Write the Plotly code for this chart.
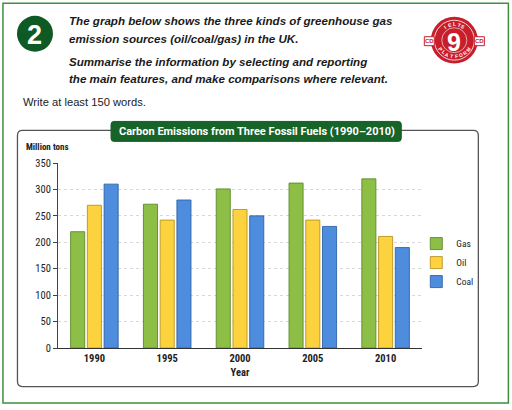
import plotly.graph_objects as go
import math

years = ["1990", "1995", "2000", "2005", "2010"]
gas = [220, 272, 301, 312, 320]
oil = [270, 242, 262, 242, 211]
coal = [310, 280, 250, 230, 190]
series_names = ["Gas", "Oil", "Coal"]
y_ticks = [0, 50, 100, 150, 200, 250, 300, 350]

fills = ["#8DBF47", "#FCD23F", "#4E8DDE"]
edges = ["#5E8A2A", "#B8961E", "#2F62A8"]

W, H = 512, 410
L, R, T, B = 58, 421.7, 162.7, 348.3


def px(x):
    return (x - L) / (R - L)


def py(y):
    return (B - y) / (B - T)


NARROW = "Liberation Sans Narrow, Roboto Condensed, Roboto, sans-serif"
SANS = "Liberation Sans, Arial, sans-serif"

fig = go.Figure()
for name, vals, fc, ec in zip(series_names, [gas, oil, coal], fills, edges):
    fig.add_trace(go.Bar(
        x=years, y=vals, name=name,
        marker=dict(color=fc, line=dict(color=ec, width=0.9)),
    ))

shapes = []
annotations = []

# outer green frame
shapes.append(dict(type="rect", xref="paper", yref="paper",
                   x0=px(3), x1=px(508), y0=py(2.5), y1=py(403.5),
                   line=dict(color="#3F8F3F", width=1.5), fillcolor="rgba(0,0,0,0)", layer="below"))


def rounded(x0, y0, x1, y1, r):
    rx = r / (R - L)
    ry = r / (B - T)
    X0, X1 = px(x0), px(x1)
    Y0, Y1 = py(y0), py(y1)
    return (f"M{X0+rx},{Y0} L{X1-rx},{Y0} Q{X1},{Y0} {X1},{Y0-ry} "
            f"L{X1},{Y1+ry} Q{X1},{Y1} {X1-rx},{Y1} L{X0+rx},{Y1} "
            f"Q{X0},{Y1} {X0},{Y1+ry} L{X0},{Y0-ry} Q{X0},{Y0} {X0+rx},{Y0} Z")


# inner chart box
shapes.append(dict(type="path", xref="paper", yref="paper",
                   path=rounded(17.5, 130, 478, 387, 5),
                   line=dict(color="#555555", width=1.3), fillcolor="rgba(0,0,0,0)", layer="below"))
# title box
shapes.append(dict(type="path", xref="paper", yref="paper",
                   path=rounded(111, 121, 401, 141, 3),
                   line=dict(color="#145E24", width=1), fillcolor="#176328", layer="above"))
annotations.append(dict(xref="paper", yref="paper", x=px(257), y=py(131),
                        text="<b>Carbon Emissions from Three Fossil Fuels (1990–2010)</b>",
                        showarrow=False, font=dict(family="Roboto, sans-serif", size=11, color="white"),
                        xanchor="center", yanchor="middle"))

# number badge
shapes.append(dict(type="circle", xref="paper", yref="paper",
                   x0=px(17), x1=px(53), y0=py(15), y1=py(51),
                   line=dict(color="#0F5A24", width=0), fillcolor="#0F5A24"))
annotations.append(dict(xref="paper", yref="paper", x=px(35), y=py(34), text="<b>2</b>",
                        showarrow=False, font=dict(family=SANS, size=27, color="white"),
                        xanchor="center", yanchor="middle"))

# prompt text
prompt = [
    ("The graph below shows the three kinds of greenhouse gas", 20),
    ("emission sources (oil/coal/gas) in the UK.", 38),
    ("Summarise the information by selecting and reporting", 61),
    ("the main features, and make comparisons where relevant.", 78),
]
for txt, yy in prompt:
    annotations.append(dict(xref="paper", yref="paper", x=px(67), y=py(yy),
                            text=f"<b><i>{txt}</i></b>", showarrow=False,
                            font=dict(family=SANS, size=11.6, color="#1a1a1a"),
                            xanchor="left", yanchor="middle"))
annotations.append(dict(xref="paper", yref="paper", x=px(21), y=py(102),
                        text="Write at least 150 words.", showarrow=False,
                        font=dict(family=SANS, size=11.2, color="#1a1a1a"),
                        xanchor="left", yanchor="middle"))

# logo
cx, cy, rr = 454, 39.5, 23.5
red = "#C81E2B"
shapes.append(dict(type="circle", xref="paper", yref="paper",
                   x0=px(cx - rr), x1=px(cx + rr), y0=py(cy + rr), y1=py(cy - rr),
                   line=dict(width=0), fillcolor=red))
ri = 20
shapes.append(dict(type="circle", xref="paper", yref="paper",
                   x0=px(cx - ri), x1=px(cx + ri), y0=py(cy + ri), y1=py(cy - ri),
                   line=dict(color="white", width=0.8), fillcolor="rgba(0,0,0,0)"))
ri2 = 12.5
shapes.append(dict(type="circle", xref="paper", yref="paper",
                   x0=px(cx - ri2), x1=px(cx + ri2), y0=py(cy + ri2), y1=py(cy - ri2),
                   line=dict(color="white", width=0.6), fillcolor="rgba(0,0,0,0)"))
annotations.append(dict(xref="paper", yref="paper", x=px(cx), y=py(cy + 1.5), text="<b>9</b>",
                        showarrow=False, font=dict(family=SANS, size=25, color="white"),
                        xanchor="center", yanchor="middle"))
for dx in (-25, 25):
    bx = cx + dx
    shapes.append(dict(type="rect", xref="paper", yref="paper",
                       x0=px(bx - 5), x1=px(bx + 5), y0=py(cy + 5.5), y1=py(cy - 3.5),
                       line=dict(color=red, width=1), fillcolor="white"))
    annotations.append(dict(xref="paper", yref="paper", x=px(bx), y=py(cy + 1), text="<b>CD</b>",
                            showarrow=False, font=dict(family=SANS, size=6, color=red),
                            xanchor="center", yanchor="middle"))
rt = 16.3
top_letters = "IELTS"
for i, ch in enumerate(top_letters):
    th = 124 - i * 17
    x = cx + rt * math.cos(math.radians(th))
    y = cy - rt * math.sin(math.radians(th))
    annotations.append(dict(xref="paper", yref="paper", x=px(x), y=py(y), text=f"<b>{ch}</b>",
                            showarrow=False, textangle=90 - th,
                            font=dict(family=SANS, size=5, color="white"),
                            xanchor="center", yanchor="middle"))
bot_letters = "PLATFORM"
for i, ch in enumerate(bot_letters):
    th = 213 + i * 16
    x = cx + rt * math.cos(math.radians(th))
    y = cy - rt * math.sin(math.radians(th))
    annotations.append(dict(xref="paper", yref="paper", x=px(x), y=py(y), text=f"<b>{ch}</b>",
                            showarrow=False, textangle=270 - th,
                            font=dict(family=SANS, size=5, color="white"),
                            xanchor="center", yanchor="middle"))

# axis label
annotations.append(dict(xref="paper", yref="paper", x=px(24), y=py(147), text="<b>Million tons</b>",
                        showarrow=False, font=dict(family=NARROW, size=9, color="#222"),
                        xanchor="left", yanchor="middle"))

fig.update_layout(
    width=W, height=H,
    margin=dict(l=L, r=W - R, t=T, b=H - B, pad=0),
    paper_bgcolor="white", plot_bgcolor="white",
    barmode="group", bargap=0.31, bargroupgap=0.16,
    shapes=shapes, annotations=annotations,
    showlegend=True,
    legend=dict(x=px(416), y=py(229), xanchor="left", yanchor="top",
                font=dict(family=NARROW, size=9.5, color="#222"),
                bgcolor="rgba(0,0,0,0)", tracegroupgap=0),
    xaxis=dict(
        showline=True, linecolor="#333", linewidth=1.2, ticks="",
        tickfont=dict(family=NARROW, size=10.5, color="#222"),
        title=dict(text="<b>Year</b>", font=dict(family=NARROW, size=10.5, color="#222"), standoff=4),
    ),
    yaxis=dict(
        range=[0, 350], tickvals=y_ticks, showline=True, linecolor="#444", linewidth=1,
        ticks="outside", ticklen=4, tickcolor="#444",
        tickfont=dict(family=NARROW, size=10.5, color="#222"),
        showgrid=True, gridcolor="#D8D8D8", gridwidth=0.8, griddash="3px,3px",
        zeroline=False,
    ),
)
fig.update_xaxes(tickprefix="<b>", ticksuffix="</b>")
fig.update_yaxes(tickprefix="<b>", ticksuffix="</b>")

fig.write_html("out.html")
